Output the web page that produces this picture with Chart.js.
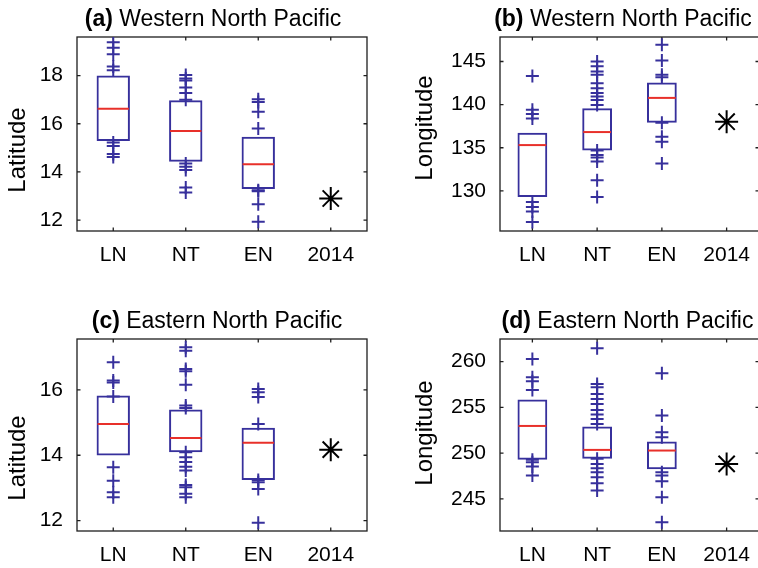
<!DOCTYPE html>
<html><head><meta charset="utf-8">
<script src="https://cdn.jsdelivr.net/npm/chart.js@4.4.1/dist/chart.umd.min.js"></script>
<style>
html,body{margin:0;padding:0;background:#fff;}
body{width:758px;height:568px;overflow:hidden;position:relative;}
canvas{position:absolute;left:0;top:0;}
</style></head><body>
<canvas id="ca" width="800" height="568"></canvas>
<canvas id="cb" width="800" height="568"></canvas>
<canvas id="cc" width="800" height="568"></canvas>
<canvas id="cd" width="800" height="568"></canvas>
<script>
// ---------------- data ----------------
const categories = ['LN', 'NT', 'EN', '2014'];
const boxCategories = ['LN', 'NT', 'EN'];

// (a) Western North Pacific - Latitude
const aQ1 = [15.28, 14.42, 13.29];
const aQ3 = [18.00, 16.98, 15.46];
const aMedian = [16.62, 15.70, 14.32];
const aOutLN = [19.38, 19.15, 18.88, 18.38, 18.22, 15.22, 15.08, 14.75, 14.62];
const aOutNT = [18.02, 17.88, 17.80, 17.50, 17.28, 17.00, 14.35, 14.22, 14.08, 13.35, 13.15];
const aOutEN = [17.02, 16.90, 16.50, 15.80, 13.24, 13.20, 12.66, 11.93];
const a2014 = 12.9;
const aTicks = [12, 14, 16, 18];

// (b) Western North Pacific - Longitude
const bQ1 = [129.30, 134.69, 137.91];
const bQ3 = [136.74, 139.57, 142.56];
const bMedian = [135.31, 136.82, 140.78];
const bOutLN = [143.33, 139.40, 138.90, 138.40, 128.72, 128.14, 127.60, 126.40];
const bOutNT = [145.00, 144.45, 143.85, 143.45, 142.48, 141.90, 141.35, 140.95, 140.55, 139.96, 134.69, 134.15, 133.88, 133.40, 131.24, 129.30];
const bOutEN = [146.94, 145.12, 143.45, 143.18, 137.91, 136.28, 135.70, 133.18];
const b2014 = 138.02;
const bTicks = [130, 135, 140, 145];

// (c) Eastern North Pacific - Latitude
const cQ1 = [13.99, 14.09, 13.24];
const cQ3 = [15.83, 15.40, 14.84];
const cMedian = [14.96, 14.53, 14.38];
const cOutLN = [16.85, 16.29, 16.23, 15.80, 13.63, 13.22, 12.87, 12.71];
const cOutNT = [17.31, 17.20, 16.64, 16.57, 16.16, 15.52, 15.45, 14.09, 13.94, 13.79, 13.65, 13.53, 13.09, 13.02, 12.82, 12.71];
const cOutEN = [16.03, 15.93, 15.78, 14.96, 13.24, 13.17, 12.97, 11.93];
const c2014 = 14.17;
const cTicks = [12, 14, 16];

// (d) Eastern North Pacific - Longitude
const dQ1 = [249.26, 249.37, 248.24];
const dQ3 = [255.85, 252.90, 251.26];
const dMedian = [252.97, 250.35, 250.28];
const dOutLN = [260.29, 258.29, 257.85, 256.91, 249.26, 249.00, 248.53, 247.55];
const dOutNT = [261.46, 257.56, 257.20, 256.47, 255.92, 255.38, 254.72, 254.21, 253.74, 253.19, 249.37, 248.82, 248.35, 247.91, 247.37, 246.71, 245.91];
const dOutEN = [258.73, 254.10, 252.28, 251.73, 247.91, 247.55, 246.93, 245.18, 242.45];
const d2014 = 248.82;
const dTicks = [245, 250, 255, 260];

// ---------------- style ----------------
const FONT = "'Liberation Sans', Arial, Helvetica, sans-serif";
const BLUE = '#37309c';
const RED = '#e8302a';
const BOXW = 0.46;
const CW = 800, CH = 568;
const YAXW = 60, XAXH = 45;

const decor = {
  id: 'decor',
  beforeDatasetsDraw(chart, args, o) {
    const {ctx, chartArea: a, scales: {x, y}} = chart;
    ctx.save();
    ctx.strokeStyle = '#1e1e1e';
    ctx.lineWidth = 1.3;
    ctx.strokeRect(a.left, a.top, a.right - a.left, a.bottom - a.top);
    ctx.beginPath();
    const tl = 3.5;
    y.ticks.forEach(t => {
      const py = y.getPixelForValue(t.value);
      ctx.moveTo(a.left, py); ctx.lineTo(a.left + tl, py);
      ctx.moveTo(a.right, py); ctx.lineTo(a.right - tl, py);
    });
    x.ticks.forEach((t, i) => {
      const px = x.getPixelForTick(i);
      ctx.moveTo(px, a.bottom); ctx.lineTo(px, a.bottom - tl);
      ctx.moveTo(px, a.top); ctx.lineTo(px, a.top + tl);
    });
    ctx.stroke();
    ctx.restore();
  },
  afterDraw(chart, args, o) {
    const {ctx, chartArea: a} = chart;
    ctx.save();
    ctx.fillStyle = '#000';
    ctx.textBaseline = 'alphabetic';
    const fb = 'bold 23px ' + FONT;
    const fn = '23px ' + FONT;
    ctx.font = fb; const w1 = ctx.measureText(o.tag).width;
    ctx.font = fn; const w2 = ctx.measureText(' ' + o.title).width;
    const cx = (a.left + a.right) / 2 + o.titleShift;
    const x0 = cx - (w1 + w2) / 2;
    const by = a.top - 11;
    ctx.font = fb; ctx.fillText(o.tag, x0, by);
    ctx.font = fn; ctx.fillText(' ' + o.title, x0 + w1, by);
    ctx.translate(o.labelX, o.labelY);
    ctx.rotate(-Math.PI / 2);
    ctx.textAlign = 'center';
    ctx.font = '24px ' + FONT;
    ctx.fillText(o.ylabel, 0, 0);
    ctx.restore();
  }
};

function makePanel(id, p) {
  const outliers = [].concat(
    p.outLN.map(v => ({x: 'LN', y: v})),
    p.outNT.map(v => ({x: 'NT', y: v})),
    p.outEN.map(v => ({x: 'EN', y: v}))
  );
  const medianHalf = (chart) => {
    const xs = chart.scales.x;
    if (!xs) return 15;
    return (xs.width / categories.length) * BOXW / 2 - 1;
  };
  new Chart(document.getElementById(id), {
    type: 'bar',
    data: {
      labels: categories,
      datasets: [
        {
          type: 'bar',
          data: p.q1.map((v, i) => [v, p.q3[i]]),
          backgroundColor: 'rgba(0,0,0,0)',
          borderColor: BLUE,
          borderWidth: 2,
          borderSkipped: false,
          barPercentage: BOXW,
          categoryPercentage: 1,
          order: 4
        },
        {
          type: 'line',
          data: p.median.map((v, i) => ({x: boxCategories[i], y: v})),
          showLine: false,
          pointStyle: 'line',
          pointRadius: ctx => medianHalf(ctx.chart),
          pointBorderColor: RED,
          pointBorderWidth: 2,
          order: 3
        },
        {
          type: 'line',
          data: outliers,
          showLine: false,
          pointStyle: 'cross',
          pointRadius: 6.5,
          pointBorderColor: BLUE,
          pointBorderWidth: 2,
          order: 2
        },
        {
          type: 'line',
          data: [{x: '2014', y: p.y2014}],
          showLine: false,
          pointStyle: 'star',
          pointRadius: 11.5,
          pointBorderColor: '#000',
          pointBorderWidth: 2,
          order: 1
        }
      ]
    },
    options: {
      responsive: false,
      animation: false,
      devicePixelRatio: 1,
      events: [],
      layout: {
        padding: {
          left: p.area.l - YAXW,
          top: p.area.t,
          right: CW - p.area.r,
          bottom: CH - p.area.b - XAXH
        }
      },
      plugins: {
        legend: {display: false},
        tooltip: {enabled: false},
        decor: p.decor
      },
      scales: {
        x: {
          type: 'category',
          offset: true,
          grid: {display: false, drawTicks: false},
          border: {display: false},
          ticks: {color: '#000', font: {family: FONT, size: 21}, padding: 12, maxRotation: 0, autoSkip: false},
          afterFit: s => { s.height = XAXH; }
        },
        y: {
          type: 'linear',
          min: p.yMin, max: p.yMax,
          grid: {display: false, drawTicks: false},
          border: {display: false},
          ticks: {color: '#000', font: {family: FONT, size: 21}, padding: 14},
          afterBuildTicks: s => { s.ticks = p.ticks.map(v => ({value: v})); },
          afterFit: s => { s.width = YAXW; }
        }
      }
    },
    plugins: [decor]
  });
}

makePanel('ca', {
  q1: aQ1, q3: aQ3, median: aMedian, outLN: aOutLN, outNT: aOutNT, outEN: aOutEN, y2014: a2014, ticks: aTicks,
  yMin: 11.55, yMax: 19.6, area: {l: 77, t: 37, r: 367, b: 231},
  decor: {tag: '(a)', title: 'Western North Pacific', ylabel: 'Latitude', titleShift: -9, labelX: 25, labelY: 150}
});
makePanel('cb', {
  q1: bQ1, q3: bQ3, median: bMedian, outLN: bOutLN, outNT: bOutNT, outEN: bOutEN, y2014: b2014, ticks: bTicks,
  yMin: 125.35, yMax: 147.84, area: {l: 500, t: 37, r: 759, b: 231},
  decor: {tag: '(b)', title: 'Western North Pacific', ylabel: 'Longitude', titleShift: -6.5, labelX: 432, labelY: 128}
});
makePanel('cc', {
  q1: cQ1, q3: cQ3, median: cMedian, outLN: cOutLN, outNT: cOutNT, outEN: cOutEN, y2014: c2014, ticks: cTicks,
  yMin: 11.68, yMax: 17.56, area: {l: 77, t: 339, r: 367, b: 531},
  decor: {tag: '(c)', title: 'Eastern North Pacific', ylabel: 'Latitude', titleShift: -5, labelX: 25, labelY: 458}
});
makePanel('cd', {
  q1: dQ1, q3: dQ3, median: dMedian, outLN: dOutLN, outNT: dOutNT, outEN: dOutEN, y2014: d2014, ticks: dTicks,
  yMin: 241.48, yMax: 262.48, area: {l: 500, t: 339, r: 759, b: 531},
  decor: {tag: '(d)', title: 'Eastern North Pacific', ylabel: 'Longitude', titleShift: -2, labelX: 432, labelY: 433}
});
</script>
</body></html>
